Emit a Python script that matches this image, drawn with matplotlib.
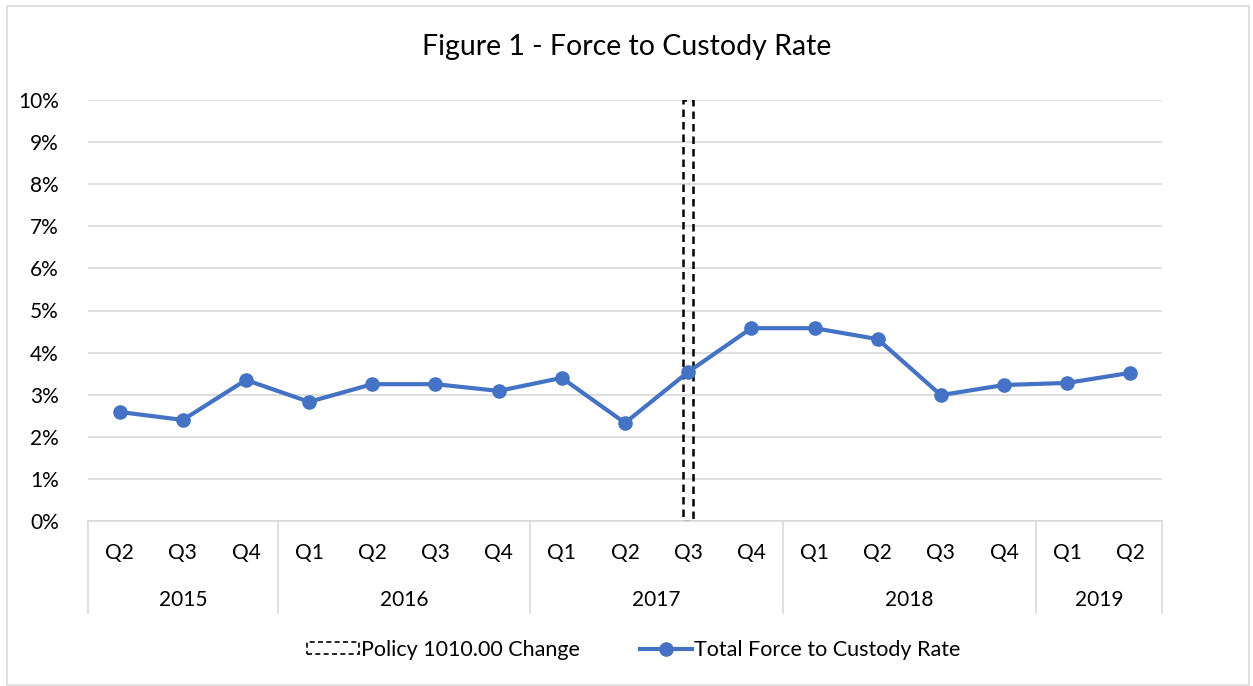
import matplotlib
matplotlib.use("Agg")
import matplotlib.pyplot as plt
from matplotlib.patches import Rectangle
from matplotlib.lines import Line2D
import numpy as np

quarters = ["Q2", "Q3", "Q4", "Q1", "Q2", "Q3", "Q4", "Q1", "Q2", "Q3", "Q4",
            "Q1", "Q2", "Q3", "Q4", "Q1", "Q2"]
years = ["2015", "2016", "2017", "2018", "2019"]
year_counts = [3, 4, 4, 4, 2]
rates = [2.59, 2.40, 3.35, 2.83, 3.25, 3.25, 3.09, 3.40, 2.33, 3.54, 4.58,
         4.58, 4.32, 2.99, 3.23, 3.28, 3.52]
policy_index = 9
policy_value = 10.0

plt.rcParams['font.family'] = ['Lato', 'DejaVu Sans']
W, H = 1253, 686
fig = plt.figure(figsize=(W / 100, H / 100), dpi=100)
ax = fig.add_axes([88 / W, 1 - 521 / H, (1162 - 88) / W, (521 - 100) / H])

x = np.arange(len(quarters))
blue = "#4472C4"
grid = "#D9D9D9"
fs = 15

ax.bar([policy_index], [policy_value], width=0.16, facecolor="none",
       edgecolor="black", linestyle=(0, (3, 2)), linewidth=1.8, zorder=2)
ax.plot(x, rates, color=blue, linewidth=3, marker="o", markersize=9.5,
        zorder=3, solid_capstyle="round")

ax.set_xlim(-0.5, len(quarters) - 0.5)
ax.set_ylim(0, 10)
ax.set_yticks(range(0, 11))
ax.set_yticklabels([f"{v}%" for v in range(0, 11)], fontsize=fs)
ax.tick_params(axis="y", length=0, pad=21)
ax.yaxis.grid(True, color=grid, linewidth=1.2)
ax.set_axisbelow(True)
for s in ["left", "right", "top"]:
    ax.spines[s].set_visible(False)
ax.spines["bottom"].set_color(grid)
ax.spines["bottom"].set_linewidth(1.2)

ax.set_xticks([])
trans = ax.get_xaxis_transform()
for i, q in enumerate(quarters):
    ax.text(i, -(553 - 521) / (521 - 100), q, transform=trans, ha="center",
            va="center", fontsize=fs)

bounds = np.concatenate([[0], np.cumsum(year_counts)]) - 0.5
sep_bottom = -(613 - 521) / (521 - 100)
for b in bounds:
    ax.plot([b, b], [0, sep_bottom], transform=trans, color=grid,
            linewidth=1.2, clip_on=False)
for k, yname in enumerate(years):
    cx = (bounds[k] + bounds[k + 1]) / 2
    ax.text(cx, -(600 - 521) / (521 - 100), yname, transform=trans,
            ha="center", va="center", fontsize=fs)

fig.text(0.5, 1 - 47 / H, "Figure 1 - Force to Custody Rate", ha="center",
         va="center", fontsize=20.5)

handles = [
    Rectangle((0, 0), 1, 1, facecolor="none", edgecolor="black",
              linestyle=(0, (3, 2)), linewidth=1.2),
    Line2D([0], [0], color=blue, linewidth=3, marker="o", markersize=9.5),
]
fig.legend(handles, ["Policy 1010.00 Change", "Total Force to Custody Rate"],
           loc="center", bbox_to_anchor=(0.506, 1 - 650 / H), ncol=2,
           frameon=False, fontsize=15.5, handlelength=2.4, handleheight=0.5,
           handletextpad=0.1, columnspacing=2.8)

fig.patches.append(Rectangle((7 / W, 1 / H), (1249 - 7) / W, (679) / H,
                             transform=fig.transFigure, facecolor="none",
                             edgecolor=grid, linewidth=1.2))

fig.savefig("out.png", dpi=100)
